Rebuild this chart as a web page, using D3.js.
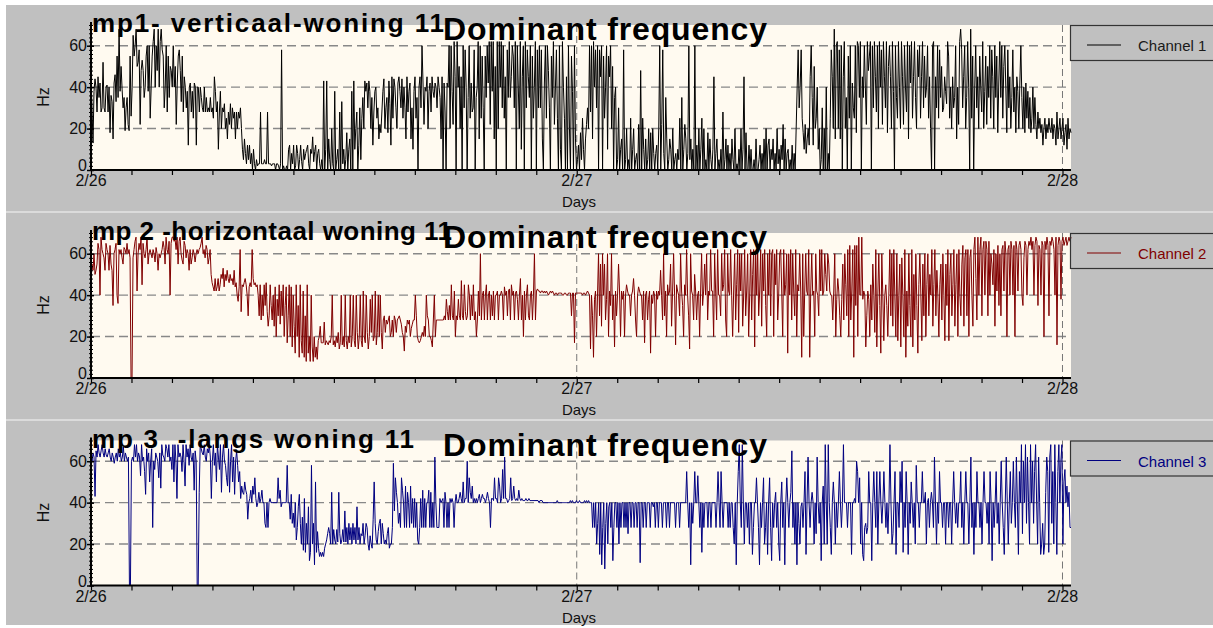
<!DOCTYPE html>
<html><head><meta charset="utf-8">
<script src="https://cdn.jsdelivr.net/npm/d3@7"></script>
<style>
body{margin:0;background:#fff}
svg{display:block}
text{font-family:"Liberation Sans",Arial,sans-serif}
</style>
</head><body>
<svg id="c" width="1213" height="628"></svg>
<script>
const dayLabels = ["2/26","2/27","2/28"];
const yTicks = [0,20,40,60];
const channelNames = ["Channel 1","Channel 2","Channel 3"];
const panelTitles = ["mp1- verticaal-woning 11","mp 2 -horizontaal woning 11","mp 3  -langs woning 11"];
const chartTitle = "Dominant frequency";
const axisLabelX = "Days";
const axisLabelY = "Hz";

const ch1 = [
44,30,13,38,44,40,28,45,35,
42,28,30,52,30,28,40,41,28,
40,18,36,33,15,42,46,33,55,35,
68,38,50,39,30,35,19,30,35,22,
19,55,26,40,65,55,60,68,50,
52,58,22,48,53,48,35,40,55,60,
38,60,25,40,55,62,68,40,60,48,
68,40,62,68,58,55,30,40,60,28,
55,35,50,48,40,60,40,50,22,42,
55,58,48,33,55,28,45,40,30,38,
12,40,42,28,38,25,42,40,12,40,
40,28,40,35,30,28,40,28,35,28,
30,28,35,28,30,25,45,38,28,33,
10,28,38,20,30,28,32,20,25,15,
28,22,32,20,30,25,28,15,28,20,
28,25,30,20,10,5,15,8,3,12,
5,12,3,8,0,10,3,0,5,2,
3,3,28,3,3,3,5,3,3,28,
3,3,3,2,3,3,3,0,3,3,
2,0,3,58,0,2,0,0,2,0,
10,12,0,8,3,12,0,2,12,8,
0,5,12,4,0,10,5,8,10,12,
3,0,10,8,16,4,9,12,0,8,
10,3,0,5,0,43,0,10,43,0,
15,5,0,20,3,0,38,0,5,10,
0,28,0,33,3,10,0,5,18,0,
10,15,0,38,0,43,10,20,28,0,
12,30,5,25,35,20,43,38,42,30,
43,38,20,35,12,28,38,40,25,30,
15,22,18,28,38,44,20,30,35,18,
43,32,12,45,25,44,40,30,20,42,
45,38,30,44,25,40,30,15,45,28,
38,42,15,30,10,38,45,25,35,0,
40,45,30,60,42,22,40,38,45,20,
38,42,28,45,38,35,42,40,30,45,
40,35,15,45,0,42,28,0,42,40,
60,20,60,38,22,62,45,0,62,40,
50,20,45,0,60,30,58,40,0,35,
60,25,42,28,30,58,0,35,40,62,
15,60,25,55,30,0,55,35,60,42,
62,22,62,38,62,15,50,0,62,20,
62,40,62,30,60,25,45,0,58,35,
62,35,45,60,55,30,62,0,60,40,
20,62,10,45,60,0,62,30,58,45,
35,60,0,55,25,40,62,0,58,30,
60,30,58,15,0,42,60,25,60,48,
30,0,55,35,62,22,40,58,25,0,
60,10,0,62,40,25,0,45,0,60,
20,0,55,38,0,60,15,0,5,12,
0,18,5,25,10,0,15,22,30,20,
60,28,60,15,62,40,58,30,60,0,
58,45,60,0,55,25,40,60,10,55,
45,60,20,50,0,35,40,0,5,30,
0,10,15,0,58,0,5,20,0,5,
0,25,0,10,20,0,5,8,0,22,
0,48,0,25,10,0,15,0,5,20,
0,18,0,20,8,0,8,12,0,20,
60,0,22,58,8,0,35,15,0,5,
15,10,0,20,0,5,8,0,10,5,
25,0,35,0,10,22,15,0,8,60,
5,15,0,10,0,60,0,12,0,20,
0,10,25,0,20,0,5,0,18,0,
15,5,0,10,45,0,8,15,0,5,
0,10,0,28,0,5,15,0,12,0,
8,0,15,5,0,20,0,3,0,10,
0,20,0,10,45,0,18,0,0,12,
0,10,0,0,5,0,15,0,0,5,
12,0,8,0,15,0,20,0,12,15,
0,10,5,15,0,8,0,20,3,10,
0,12,5,22,0,15,0,8,10,0,
5,0,12,0,8,0,20,40,58,30,
40,58,25,18,10,22,8,15,20,12,
45,60,35,12,50,20,25,40,10,20,
0,5,30,0,20,0,40,0,8,0,
25,58,45,20,68,15,60,62,20,58,
15,60,0,45,62,20,35,0,55,25,
60,0,42,30,25,60,18,62,60,35,
62,0,45,35,60,40,22,62,48,55,
62,0,60,30,62,45,28,60,20,62,
40,58,22,62,45,30,62,18,50,60,
45,20,62,38,0,60,35,25,62,40,
20,62,45,22,60,40,28,62,15,60,
42,62,25,45,62,35,20,58,45,60,
25,45,62,30,55,35,40,60,25,45,
20,0,60,62,0,45,30,60,25,58,
35,50,28,30,45,38,32,62,55,25,
40,20,45,30,35,60,15,40,22,62,
68,58,30,45,60,20,35,62,40,0,
68,25,55,0,40,60,30,45,20,55,
40,28,62,20,38,55,22,50,35,60,
25,58,45,20,60,35,55,18,42,62,
35,60,25,50,60,40,18,58,30,45,
20,35,58,28,40,18,45,38,20,42,
60,35,20,40,18,42,25,38,20,35,
18,25,40,20,35,22,15,28,20,25,
18,22,12,20,25,15,22,18,25,20,
18,25,15,22,20,12,28,15,20,25,
15,20,25,12,18,22,10,25,15,20,18
];

const ch2 = [
48,55,52,60,50,52,55,65,62,
40,68,62,60,58,52,65,62,60,52,
64,55,52,35,60,62,65,40,36,62,
60,62,58,55,63,62,60,65,60,62,
58,0,0,58,62,66,68,42,60,65,
62,68,45,65,60,58,62,68,55,60,
62,60,58,62,60,56,63,60,52,60,
58,60,62,66,63,55,68,62,60,66,
40,65,68,68,66,67,62,68,55,66,
68,60,57,55,66,64,58,62,60,52,
62,55,58,62,60,56,60,62,60,62,
63,65,68,60,62,58,64,62,55,58,
62,50,46,44,42,48,42,44,48,42,
45,50,48,53,44,50,47,52,48,46,
50,47,48,45,52,44,46,40,37,44,
62,32,45,44,46,48,45,40,30,44,
46,44,62,48,45,46,44,45,40,30,
45,28,40,30,45,35,46,32,25,30,
45,35,28,40,25,44,20,38,30,45,
26,42,30,45,20,35,44,17,30,45,
20,44,15,40,25,12,45,20,35,10,
45,18,12,42,10,30,8,45,12,20,
8,40,15,8,20,10,15,9,18,20,
25,17,17,17,27,16,18,17,16,18,
17,20,40,16,18,15,20,17,22,14,
17,40,16,20,15,40,18,14,20,17,
40,15,20,40,18,15,40,22,14,20,
40,18,15,42,20,17,40,22,14,20,
38,22,40,18,20,42,16,22,40,20,
40,22,14,28,30,22,28,26,28,30,
20,22,28,20,30,28,22,28,29,30,
28,26,22,20,13,25,22,28,26,28,
20,24,26,28,28,40,30,20,18,17,
18,20,22,20,25,20,40,30,28,20,
20,18,15,28,40,20,28,28,28,28,
28,28,28,28,30,28,38,32,28,35,
28,45,30,28,42,20,30,28,38,30,
28,47,30,28,45,32,28,30,45,40,
28,40,30,45,28,32,20,28,42,30,
60,28,40,42,28,40,45,28,40,42,
28,40,30,42,28,40,40,42,28,40,
40,42,40,28,44,40,42,30,42,43,
28,45,40,42,28,41,42,38,28,40,
48,28,40,20,42,28,40,45,30,28,
40,42,28,40,60,28,42,43,42,42,
41,42,42,41,42,41,42,41,40,41,
42,41,42,41,40,41,41,40,41,41,
41,41,40,40,41,41,40,40,41,41,
41,30,41,41,17,41,41,41,41,41,
41,41,40,41,41,40,41,42,41,40,
14,40,30,10,38,42,20,40,60,30,
55,25,60,40,55,28,38,60,20,42,
35,60,28,40,15,42,30,40,55,42,
20,42,38,42,20,40,45,42,40,40,
30,40,42,48,40,28,20,40,44,42,
40,40,28,42,17,40,42,28,38,42,
12,40,36,42,40,20,42,38,42,40,
52,40,28,60,30,42,20,45,40,42,
55,25,42,60,40,16,45,42,40,30,
60,42,35,20,45,40,62,40,30,14,
60,42,40,28,50,42,28,40,42,20,
42,60,35,42,55,40,60,28,42,40,
62,42,42,20,60,42,28,62,40,40,
30,60,42,45,62,28,20,60,42,40,
62,40,20,42,60,28,45,62,22,60,
42,60,25,40,62,30,42,60,20,40,
62,28,50,62,15,60,40,62,30,42,
62,25,60,42,62,35,20,60,40,62,
30,60,62,20,60,45,62,28,40,60,
62,42,20,62,40,45,60,12,60,40,
62,28,60,42,30,62,20,45,42,60,
42,10,60,20,42,60,42,40,62,10,
42,60,40,42,20,60,42,40,30,62,
42,62,40,42,60,50,42,60,55,42,
40,40,28,42,60,20,38,48,42,30,
20,38,55,28,60,45,30,62,20,64,
28,42,62,10,64,35,64,20,68,40,
40,68,38,42,40,15,30,42,38,20,
45,28,55,40,22,62,15,40,60,35,
12,60,40,18,40,45,35,20,40,62,
30,60,25,62,40,20,60,18,40,55,
15,58,40,20,62,10,42,25,60,35,
20,62,15,50,28,60,35,12,45,60,
40,18,55,30,60,20,45,60,30,50,
40,62,25,45,62,30,52,40,20,45,
55,28,60,40,18,55,35,62,18,50,
60,30,45,62,25,45,60,20,62,40,
30,55,64,25,58,62,30,62,20,58,
62,40,25,62,68,48,28,68,40,62,
68,30,62,66,40,66,62,30,66,40,
60,55,45,62,25,60,42,64,35,60,
30,62,64,42,66,60,20,62,64,40,
66,62,40,64,20,66,62,42,64,66,
62,40,35,58,66,64,40,62,66,64,
68,62,66,40,64,68,66,35,64,62,
40,66,64,20,66,62,68,64,30,66,
64,68,66,62,40,68,16,64,68,66,
38,66,68,64,66,68,64,66,68,66,68
];

const ch3 = [
66,60,64,62,43,65,62,68,64,
62,65,68,64,62,66,63,62,64,66,
62,60,64,62,59,62,64,60,66,62,
64,60,62,67,60,64,62,60,62,0,
0,60,62,60,68,62,68,60,64,62,
53,68,60,62,55,44,66,60,64,50,
60,66,28,60,56,64,62,60,52,64,
47,68,63,62,60,68,66,62,68,60,
62,56,68,50,68,60,42,68,62,64,
62,55,68,60,48,68,62,66,58,68,
62,60,64,46,65,60,0,0,45,68,
66,64,63,68,62,60,66,64,68,62,
42,60,68,58,64,50,68,62,56,68,
45,62,68,60,58,52,48,66,45,60,
68,50,62,44,60,65,58,50,55,42,
48,45,44,50,46,44,32,40,42,46,
40,48,44,52,42,38,40,45,40,42,
46,40,40,30,28,40,28,40,42,40,
40,40,40,40,40,40,52,42,46,38,
40,40,40,40,40,58,40,40,32,44,
30,35,28,40,22,28,38,44,30,20,
33,17,42,16,30,20,38,12,16,58,
20,30,10,50,16,26,18,14,16,14,
16,14,18,20,22,25,28,25,20,45,
20,27,22,20,27,21,45,25,20,22,
27,21,36,21,28,20,30,22,28,20,
30,22,28,20,38,22,28,20,25,24,
30,20,24,30,28,20,17,24,20,18,
32,50,30,22,20,26,30,32,20,30,
25,20,22,20,25,28,18,20,20,28,
59,36,52,45,40,30,35,28,52,46,
40,28,48,28,45,40,28,48,30,42,
28,42,28,40,22,20,28,42,28,46,
28,42,28,40,40,46,28,45,28,40,
28,62,40,28,28,28,42,40,41,42,
28,45,40,28,40,28,42,40,42,40,
28,40,44,40,40,42,45,42,40,50,
40,42,42,60,40,52,45,42,48,40,
42,40,42,40,42,44,40,42,44,42,
42,40,42,45,42,40,28,42,42,41,
52,42,42,40,52,48,40,42,56,42,
62,42,42,40,41,42,52,41,42,48,
42,41,42,41,46,42,41,42,41,41,
41,42,41,41,42,41,41,41,41,41,
41,41,41,41,40,41,41,41,40,40,
40,40,40,40,40,40,40,40,40,40,
40,40,41,40,40,40,40,40,40,40,
40,40,40,40,40,41,40,41,40,40,
40,41,40,40,41,40,40,40,40,41,
40,41,40,41,40,40,40,28,40,28,
40,20,30,40,15,40,10,28,40,8,
30,40,20,38,40,28,40,12,28,40,
40,28,40,20,40,28,40,40,28,40,
28,40,25,40,40,28,40,40,28,40,
40,28,40,40,11,40,40,28,40,40,
28,40,40,40,28,40,40,38,40,28,
40,40,28,40,40,40,28,40,40,40,
28,40,40,28,40,40,40,40,40,28,
40,40,40,28,40,40,40,40,40,40,
55,40,28,40,10,40,30,40,55,40,
40,53,40,28,40,16,40,28,40,40,
40,28,40,40,28,40,40,40,40,28,
40,55,40,28,55,40,28,40,40,40,
40,28,40,28,40,40,28,20,40,10,
40,55,68,40,28,68,40,20,40,40,
28,40,20,40,40,15,28,40,40,52,
40,28,10,40,28,40,52,20,28,40,
15,40,52,28,12,40,28,40,45,28,
40,20,12,40,50,28,40,10,40,52,
40,28,40,45,65,28,40,20,40,10,
40,30,20,38,40,28,40,55,15,40,
62,40,28,40,45,40,20,40,25,62,
40,30,40,12,40,48,20,68,40,20,
68,40,28,15,40,50,40,20,40,28,
40,55,40,28,40,68,40,40,40,28,
40,40,40,15,40,40,42,40,60,55,
40,52,20,40,15,12,28,30,25,28,
55,40,40,12,40,55,40,28,55,20,
40,55,40,30,40,55,40,28,40,25,
40,68,40,20,25,40,55,15,40,40,
28,55,40,60,16,40,28,55,40,15,
40,30,50,40,28,40,20,58,40,40,
28,40,40,55,40,40,45,20,40,42,
28,40,45,40,28,62,40,20,40,30,
55,40,40,28,40,40,20,40,40,28,
40,40,20,40,55,40,30,40,28,40,
40,55,28,40,20,40,55,40,40,20,
40,62,28,40,15,40,28,55,40,40,
28,40,20,40,55,40,40,30,40,20,
55,40,12,40,28,40,55,30,40,20,
40,60,40,28,15,40,62,40,20,40,
55,30,40,60,40,28,62,40,15,55,
40,68,25,60,40,68,30,62,40,20,
68,40,60,30,55,68,40,20,62,40,
15,20,30,15,20,45,62,55,16,62,
68,30,55,20,68,40,15,55,68,40,
60,68,20,50,56,40,48,38,45,28,28
];

const lineColors = ["#000000","#800000","#000080"];
const legendTextColors = ["#1a1a1a","#800000","#000080"];
const series = [ch1, ch2, ch3];

const W = 1213, H = 628;
const svg = d3.select("#c");
const font = '"Liberation Sans", Arial, sans-serif';

svg.append("rect").attr("x",6).attr("y",5).attr("width",W-6).attr("height",620).attr("fill","#c0c0c0");
[212,420].forEach(yy => svg.append("line").attr("x1",6).attr("x2",W).attr("y1",yy).attr("y2",yy)
  .attr("stroke","#e4e4e4").attr("stroke-width",1.5));

const DAY = 864e5;
const t0 = new Date(2010,1,26);
const spanDays = 2.0175;
const offsets = [0,208,415.5];
const titleLens = [352,360,322];

series.forEach((data,i) => {
  const oy = offsets[i];
  const top = 25+oy, bottom = 170+oy, left = 91, right = 1071;
  const x = d3.scaleTime().domain([t0, new Date(t0.getTime()+spanDays*DAY)]).range([left,right]);
  const y = d3.scaleLinear().domain([0,70]).range([bottom,top]);
  const g = svg.append("g");

  g.append("rect").attr("x",left).attr("y",top).attr("width",right-left).attr("height",bottom-top).attr("fill","#fffaf0");

  g.selectAll("line.hg").data(yTicks.filter(v=>v>0)).join("line").attr("class","hg")
    .attr("x1",left).attr("x2",right).attr("y1",d=>y(d)).attr("y2",d=>y(d))
    .attr("stroke","#888").attr("stroke-width",1.4).attr("stroke-dasharray","9,5");

  const days = dayLabels.map((d,k)=>new Date(t0.getTime()+k*DAY));
  g.selectAll("line.vg").data(days.slice(1)).join("line").attr("class","vg")
    .attr("x1",d=>x(d)).attr("x2",d=>x(d)).attr("y1",top).attr("y2",bottom)
    .attr("stroke","#777").attr("stroke-width",1).attr("stroke-dasharray","7,4");

  const step = spanDays*DAY/(data.length-1);
  const line = d3.line().x((d,k)=>x(new Date(t0.getTime()+k*step))).y(d=>y(d));
  g.append("path").datum(data).attr("d",line).attr("fill","none")
    .attr("stroke",lineColors[i]).attr("stroke-width",1).attr("stroke-linejoin","miter");

  // x axis minor ticks (every 2 h)
  g.append("g").attr("transform",`translate(0,${bottom})`)
    .call(d3.axisBottom(x).ticks(d3.timeHour.every(2)).tickSize(5).tickFormat(""))
    .call(s=>{s.select(".domain").remove(); s.selectAll("line").attr("stroke","#000").attr("stroke-width",1.2);});
  g.append("line").attr("x1",left).attr("x2",right).attr("y1",bottom).attr("y2",bottom)
    .attr("stroke","#000").attr("stroke-width",2);
  g.selectAll("text.dl").data(days).join("text").attr("class","dl")
    .attr("x",d=>x(d)).attr("y",bottom+16).attr("text-anchor","middle")
    .attr("font-size",16).attr("fill","#111").text((d,k)=>dayLabels[k]);

  // y axis
  g.append("g").attr("transform",`translate(${left},0)`)
    .call(d3.axisLeft(y).tickValues(d3.range(0,71,2)).tickSize(2).tickFormat(""))
    .call(s=>{s.select(".domain").remove(); s.selectAll("line").attr("x1",2).attr("stroke","#000");});
  g.append("g").attr("transform",`translate(${left},0)`)
    .call(d3.axisLeft(y).tickValues(yTicks).tickSize(4).tickPadding(0))
    .call(s=>{
      s.select(".domain").remove();
      s.selectAll("line").attr("x1",3).attr("stroke","#000").attr("stroke-width",1.5);
      s.selectAll("text").attr("font-size",16).attr("font-family",font).attr("fill","#111")
        .attr("dy",d=>d===0?"0.05em":"0.32em");
    });
  g.append("line").attr("x1",left).attr("x2",left).attr("y1",top-3).attr("y2",bottom+1)
    .attr("stroke","#000").attr("stroke-width",2);

  g.append("text").attr("x",579).attr("y",207+oy).attr("text-anchor","middle")
    .attr("font-size",15).attr("fill","#111").text(axisLabelX);
  g.append("text").attr("transform",`translate(49,${97+oy}) rotate(-90)`).attr("text-anchor","middle")
    .attr("font-size",16).attr("fill","#111").text(axisLabelY);

  // legend
  g.append("rect").attr("x",1070.5).attr("y",25.5+oy).attr("width",160).attr("height",35)
    .attr("fill","none").attr("stroke","#333").attr("stroke-width",1.2);
  g.append("line").attr("x1",1087).attr("x2",1121).attr("y1",45+oy).attr("y2",45+oy)
    .attr("stroke",lineColors[i]).attr("stroke-width",1);
  g.append("text").attr("x",1138).attr("y",51+oy).attr("font-size",15)
    .attr("fill",legendTextColors[i]).text(channelNames[i]);

  // titles
  g.append("text").attr("x",92).attr("y",32+oy).attr("font-size",26).attr("font-weight","bold")
    .attr("fill","#000").style("white-space","pre")
    .attr("textLength",titleLens[i]).attr("lengthAdjust","spacing").text(panelTitles[i]);
  g.append("text").attr("x",443).attr("y",40+oy).attr("font-size",32).attr("font-weight","bold")
    .attr("fill","#000").attr("textLength",324).attr("lengthAdjust","spacing").text(chartTitle);
});
</script>
</body></html>
